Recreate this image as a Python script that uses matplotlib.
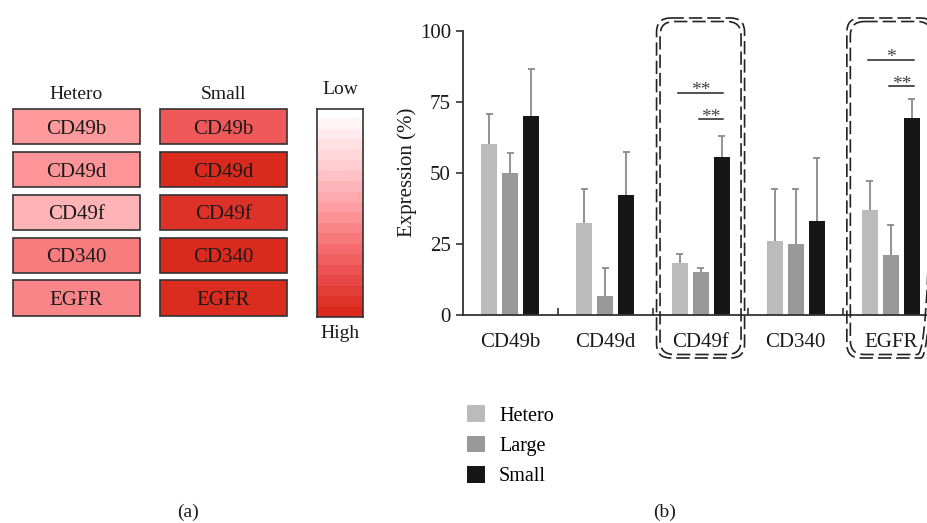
import matplotlib
matplotlib.use('Agg')
import matplotlib.pyplot as plt
import numpy as np
from matplotlib.colors import LinearSegmentedColormap
from matplotlib.patches import FancyBboxPatch

plt.rcParams['font.family'] = ['Liberation Serif', 'DejaVu Serif']

# data
markers = ['CD49b', 'CD49d', 'CD49f', 'CD340', 'EGFR']
groups = ['Hetero', 'Large', 'Small']
means = {
    'Hetero': [60, 32.3, 18.1, 25.8, 36.8],
    'Large': [50, 6.6, 15.0, 25.0, 21.0],
    'Small': [70, 42.0, 55.4, 33.1, 69.3],
}
upper = {
    'Hetero': [70.8, 44.4, 21.4, 44.3, 47.2],
    'Large': [57.0, 16.5, 16.5, 44.3, 31.7],
    'Small': [86.4, 57.2, 62.9, 55.3, 76.0],
}
# significance: (marker index, group a, group b, height, label)
sig_pairs = [
    (2, 0, 2, 78.2, '**'),
    (2, 1, 2, 68.9, '**'),
    (4, 0, 2, 89.7, '*'),
    (4, 1, 2, 80.5, '**'),
]
highlight = [2, 4]

# heat map levels (0 = low, 1 = high)
heat_cols = ['Hetero', 'Small']
heat_levels = {
    'Hetero': [0.50, 0.52, 0.38, 0.62, 0.58],
    'Small': [0.76, 1.00, 0.96, 1.00, 0.99],
}

bar_colors = ['#bbbbbb', '#999999', '#161616']
W, H = 927, 523
fig = plt.figure(figsize=(W / 100, H / 100), dpi=100)

# ---- (a) heat boxes
cmap = LinearSegmentedColormap.from_list(
    'wr', ['#ffffff', '#ffd0d3', '#fe999d', '#f15b5d', '#da2a1e'])

axh = fig.add_axes([3 / W, 1 - 319.4 / H, 294 / W, 214 / H])
axh.set_xlim(-0.5, 1.5)
axh.set_ylim(4.5, -0.5)
axh.axis('off')
rows = np.arange(len(markers))
for j, col in enumerate(heat_cols):
    axh.barh(rows, 0.864, left=j - 0.432, height=0.82,
             color=cmap(np.array(heat_levels[col])), edgecolor='#333333', linewidth=1.2)
    for r, m in zip(rows, markers):
        axh.text(j, r + 0.06, m, ha='center', va='center', fontsize=15, color='#1a1a1a')
    axh.text(j, -0.76, col, ha='center', va='center', fontsize=14, color='#1a1a1a')

axc = fig.add_axes([317 / W, 1 - 317 / H, 46 / W, 208 / H])
axc.imshow(np.linspace(0, 1, 20).reshape(-1, 1), cmap=cmap, aspect='auto')
axc.set_xticks([])
axc.set_yticks([])
for s in axc.spines.values():
    s.set_color('#333333')
    s.set_linewidth(1.2)
fig.text(340 / W, 1 - 90 / H, 'Low', ha='center', va='center', fontsize=14, color='#1a1a1a')
fig.text(340 / W, 1 - 334 / H, 'High', ha='center', va='center', fontsize=14, color='#1a1a1a')

# ---- (b) bars
ax = fig.add_axes([462.7 / W, 1 - 314.7 / H, (W - 462.7) / W, 284 / H])
x = np.arange(len(markers))
bw, off = 0.168, 0.221
for k, g in enumerate(groups):
    xs = x + (k - 1) * off
    ax.bar(xs, means[g], bw, color=bar_colors[k], label=g, zorder=2)
    ax.vlines(xs, means[g], upper[g], color='#8a8a8a', lw=1.3, zorder=1)
    ax.hlines(upper[g], xs - 0.037, xs + 0.037, color='#8a8a8a', lw=1.3, zorder=1)

for m, a, b, h, lab in sig_pairs:
    xa, xb = m + (a - 1) * off, m + (b - 1) * off
    ax.plot([xa - 0.02, xb + 0.02], [h, h], color='#222222', lw=1.1, clip_on=False)
    ax.text((xa + xb) / 2, h - 2.3, lab, ha='center', va='bottom', fontsize=14, color='#444444')

ax.set_xlim(-0.5, 4.38)
ax.set_ylim(0, 100)
ax.set_yticks([0, 25, 50, 75, 100])
ax.tick_params(axis='y', labelsize=15, length=5, width=1.2, color='#333333', labelcolor='#1a1a1a')
ax.set_xticks(x[:-1] + 0.5)
ax.set_xticklabels([])
ax.tick_params(axis='x', length=5, width=1.2, color='#333333', direction='in')
ax.set_xticks(x, minor=True)
ax.set_xticklabels(markers, minor=True)
ax.tick_params(axis='x', which='minor', length=0, labelsize=15, pad=13, labelcolor='#1a1a1a')
for s in ['top', 'right']:
    ax.spines[s].set_visible(False)
for s in ['left', 'bottom']:
    ax.spines[s].set_color('#333333')
    ax.spines[s].set_linewidth(1.3)
ax.set_ylabel('Expression (%)', fontsize=15, color='#1a1a1a', labelpad=2)

ax.legend(loc='upper left', bbox_to_anchor=(-0.03, -0.255), frameon=False, fontsize=14.5,
          handlelength=0.9, handleheight=0.9, handletextpad=0.7, labelspacing=0.5)

# dashed highlight boxes over the bar groups
ovl = fig.add_axes([0, 0, 1, 1], facecolor='none')
ovl.set_xlim(0, W)
ovl.set_ylim(H, 0)
ovl.axis('off')
for m in highlight:
    cx = ax.transData.transform((m, 0))[0]
    for d in [0, 3.5]:
        ovl.add_patch(FancyBboxPatch((cx - 44 + d, 18 + d), 88 - 2 * d, 340 - 2 * d,
                                     boxstyle='round,pad=0,rounding_size=14',
                                     fill=False, edgecolor='#222222', lw=1.2,
                                     linestyle=(0, (8, 3)), clip_on=False))

fig.text(188 / W, 1 - 512 / H, '(a)', ha='center', va='center', fontsize=14, color='#1a1a1a')
fig.text(665 / W, 1 - 512 / H, '(b)', ha='center', va='center', fontsize=14, color='#1a1a1a')

fig.savefig('out.png', dpi=100)
